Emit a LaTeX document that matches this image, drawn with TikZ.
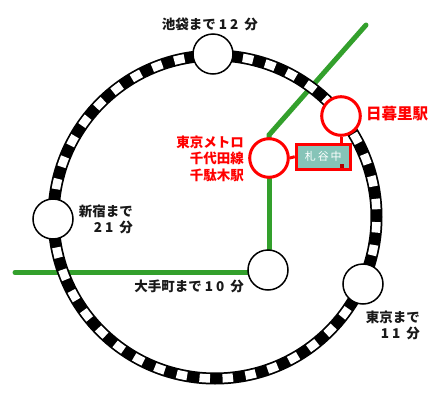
\documentclass[tikz,border=0pt]{standalone}
\usepackage{fontspec}
\setmainfont{Noto Sans CJK JP}
\usepackage{amsmath,amssymb,xcolor}
\definecolor{linegreen}{HTML}{33A02C}
\definecolor{platered}{HTML}{FF0000}
\definecolor{plateteal}{HTML}{86C4B8}
\newcommand{\gapnum}[2]{#1\kern3pt #2\kern6pt}
\pgfdeclarelayer{under}
\pgfsetlayers{under,main}
\tikzset{
  station/.style={circle,draw=black,fill=white,line width=1.5pt,minimum size=40pt,inner sep=0pt},
  redstation/.style={circle,draw=platered,fill=white,line width=3pt,minimum size=38.6pt,inner sep=0pt},
  greenline/.style={draw=linegreen,line width=5pt,line cap=round},
  redlink/.style={draw=platered,line width=3pt},
  timelabel/.style={font=\fontsize{13.5}{16}\selectfont\bfseries,align=right,inner sep=0pt,text=black!90},
  redlabel/.style={font=\fontsize{13.5}{16.3}\selectfont\bfseries,align=right,inner sep=0pt,text=platered},
}
\begin{document}
\begin{tikzpicture}[x=1pt,y=-1pt]
\useasboundingbox (0,0) rectangle (440,402);
\coordinate (ringc) at (215,217);
\coordinate (westend) at (15,272.5);
\coordinate (northend) at (366,25);
\coordinate (bend) at (269,135);
\node[station] (otemachi) at (268,270) {};
\node[station] (ikebukuro) at (213,54) {};
\node[station] (shinjuku) at (53,219) {};
\node[station] (tokyo) at (363,284) {};
\node[redstation] (nippori) at (341,116) {};
\node[redstation] (sendagi) at (269,158) {};
\node[draw=platered,fill=plateteal,line width=3pt,minimum width=54pt,minimum height=25pt,inner sep=0pt,
  text=white,font=\fontsize{11}{11}\selectfont] (yanaka) at (323.3,156.7) {札\,谷\,中};
\fill[platered!70!black] ([shift={(-12,-7)}]yanaka.south east) rectangle ++(4,4);
\begin{pgfonlayer}{under}
\draw[greenline] (westend)--(westend-|otemachi.center);
\draw[greenline] (otemachi.north-|sendagi.south)--(sendagi.south);
\draw[greenline] (sendagi.center)--(bend)--(northend);
\draw[line width=12pt] (ringc) circle (161.5);
\draw[white,line width=8.5pt,dash pattern=on 10.5pt off 12.56pt,dash phase=18pt] (ringc) circle (161.5);
\draw[redlink] (sendagi.east)--(yanaka.west);
\draw[redlink] (nippori.south)--(nippori.south|-yanaka.north);
\end{pgfonlayer}
\node[timelabel,anchor=base east] (ikelabel) at (258,29.5) {池袋まで \gapnum{1}{2}分};
\node[timelabel,anchor=base east] (shinlabel) at (133,232) {新宿まで\\\gapnum{2}{1}分};
\node[timelabel,anchor=base east] (otelabel) at (244,291) {大手町まで \gapnum{1}{0}分};
\node[timelabel,anchor=base east] (toklabel) at (420,338) {東京まで\\\gapnum{1}{1}分};
\node[redlabel,anchor=base east] (senlabel) at (244,180) {東京メトロ\\千代田線\\千駄木駅};
\node[redlabel,anchor=west,font=\fontsize{15.5}{15.5}\selectfont\bfseries] (nipplabel) at (366,114) {日暮里駅};
\end{tikzpicture}
\end{document}
